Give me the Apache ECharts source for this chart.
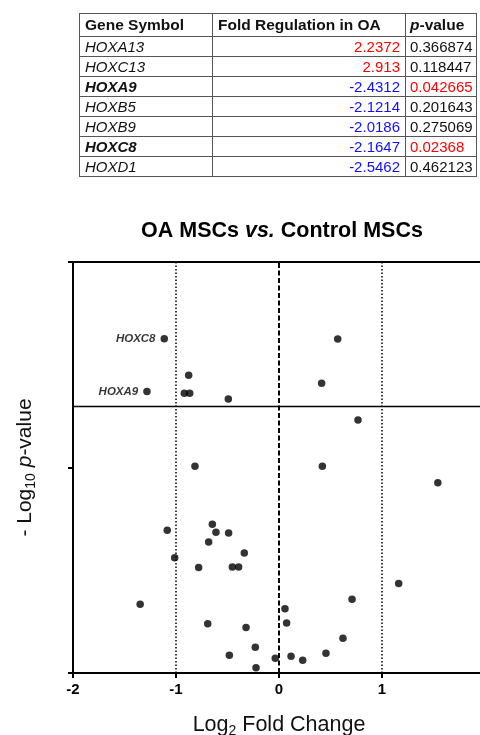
<!DOCTYPE html>
<html>
<head>
<meta charset="utf-8">
<script src="https://cdn.jsdelivr.net/npm/echarts@6/dist/echarts.min.js"></script>
<style>
  body { margin: 0; background: #fff; overflow: hidden; }
  #chart { position: absolute; left: 0; top: 0; width: 480px; height: 735px; }
  #tbl {
    position: absolute; left: 79px; top: 13px; z-index: 2; width: 397px;
    table-layout: fixed; border-collapse: collapse;
    font-family: "Liberation Sans", Arial, sans-serif; font-size: 15px; color: #111;
  }
  #tbl td, #tbl th { border: 1px solid #555; padding: 0 5px; white-space: nowrap; overflow: hidden; }
  #tbl th { font-weight: bold; font-size: 15.5px; height: 22px; text-align: left; }
  #tbl td { height: 19px; line-height: 19px; }
  #tbl td.num { text-align: right; }
  #tbl td.pv, #tbl th.pv { padding: 0 2px 0 4px; }
</style>
</head>
<body>
<div id="chart"></div>
<table id="tbl"></table>
<script>
// table data
const genes = ['HOXA13', 'HOXC13', 'HOXA9', 'HOXB5', 'HOXB9', 'HOXC8', 'HOXD1'];
const foldReg = ['2.2372', '2.913', '-2.4312', '-2.1214', '-2.0186', '-2.1647', '-2.5462'];
const pValues = ['0.366874', '0.118447', '0.042665', '0.201643', '0.275069', '0.02368', '0.462123'];
const boldGenes = ['HOXA9', 'HOXC8'];

// volcano points: log2 fold change, -log10 p
const log2fc = [-1.114, -1.282, 0.570, -0.877, -0.919, -0.867, -0.492, 0.414, 0.767, -0.816,
  0.421, 1.542, -1.085, -0.647, -0.612, -0.489, -0.683, -0.337, -1.013, -0.780,
  -0.453, -0.392, 1.162, -1.348, 0.709, 0.058, 0.074, -0.692, -0.320, 0.621,
  -0.230, -0.482, 0.456, 0.117, -0.036, 0.230, -0.223];
const negLog10p = [1.626, 1.370, 1.625, 1.449, 1.361, 1.361, 1.333, 1.410, 1.231, 1.006,
  1.006, 0.926, 0.695, 0.724, 0.685, 0.681, 0.638, 0.584, 0.561, 0.513,
  0.516, 0.516, 0.435, 0.335, 0.359, 0.313, 0.243, 0.240, 0.222, 0.169,
  0.125, 0.086, 0.096, 0.081, 0.072, 0.062, 0.026];
const pointLabels = ['HOXC8', 'HOXA9'];
const xTicks = [-2, -1, 0, 1, 2];
const yTicks = [0, 1, 2];
const pCutoff = 1.301;

// build table
const tbl = document.getElementById('tbl');
let html = '<colgroup><col style="width:133px"><col style="width:193px"><col style="width:71px"></colgroup>' +
  '<tr><th>Gene Symbol</th><th>Fold Regulation in OA</th><th class="pv"><i>p</i>-value</th></tr>';
genes.forEach((g, i) => {
  const fc = parseFloat(foldReg[i]);
  const gStyle = boldGenes.includes(g) ? 'font-style:italic;font-weight:bold' : 'font-style:italic';
  const pColor = parseFloat(pValues[i]) < 0.05 ? '#ff0000' : '#111';
  html += '<tr><td style="' + gStyle + '">' + g + '</td>' +
    '<td class="num" style="color:' + (fc > 0 ? '#ff0000' : '#1010ff') + '">' + foldReg[i] + '</td>' +
    '<td class="pv" style="color:' + pColor + '">' + pValues[i] + '</td></tr>';
});
tbl.innerHTML = html;

const chart = echarts.init(document.getElementById('chart'));

const points = log2fc.map((x, i) => {
  const item = { value: [x, negLog10p[i]] };
  if (i < pointLabels.length) {
    item.label = {
      show: true, position: 'left', distance: 5, formatter: pointLabels[i],
      fontSize: 11.5, fontWeight: 'bold', fontStyle: 'italic', color: '#000',
      fontFamily: 'Liberation Sans'
    };
  }
  return item;
});

const option = {
  backgroundColor: '#fff',
  animation: false,
  title: {
    text: '{b|OA MSCs }{i|vs.}{b| Control MSCs}',
    left: 136, top: 215,
    textStyle: {
      rich: {
        b: { fontSize: 21.5, fontWeight: 'bold', color: '#000', fontFamily: 'Liberation Sans' },
        i: { fontSize: 21.5, fontWeight: 'bold', fontStyle: 'italic', color: '#000', fontFamily: 'Liberation Sans' }
      }
    }
  },
  grid: { left: 73, top: 262, width: 412, height: 411, outerBoundsMode: 'none', containLabel: false },
  xAxis: [{
    type: 'value', min: xTicks[0], max: xTicks[xTicks.length - 1], interval: 1,
    splitLine: { show: false },
    axisLine: { onZero: false, lineStyle: { color: '#000', width: 2 } },
    axisTick: { show: true, length: 5, lineStyle: { color: '#000', width: 2 } },
    axisLabel: {
      showMaxLabel: false, margin: 9, color: '#000', fontSize: 15, fontWeight: 'bold',
      fontFamily: 'Liberation Sans'
    },
    name: '{a|Log}{s|2}{a| Fold Change}',
    nameLocation: 'middle', nameGap: 39,
    nameTextStyle: {
      rich: {
        a: { fontSize: 21.5, color: '#111', fontFamily: 'Liberation Sans' },
        s: { fontSize: 14, color: '#111', fontFamily: 'Liberation Sans', padding: [12, 0, 0, 0] }
      }
    }
  }, {
    type: 'value', position: 'top', min: -2, max: 2,
    axisLine: { onZero: false, lineStyle: { color: '#000', width: 2 } },
    axisTick: { show: false }, axisLabel: { show: false }, splitLine: { show: false }
  }],
  yAxis: {
    type: 'value', min: yTicks[0], max: yTicks[yTicks.length - 1], interval: 1,
    splitLine: { show: false },
    axisLine: { onZero: false, lineStyle: { color: '#000', width: 2 } },
    axisTick: { show: true, length: 5, lineStyle: { color: '#000', width: 2 } },
    axisLabel: { show: false },
    name: '{a|- Log}{s|10}{a| }{i|p}{a|-value}',
    nameLocation: 'middle', nameGap: 35, nameRotate: 90,
    nameTextStyle: {
      rich: {
        a: { fontSize: 21, color: '#111', fontFamily: 'Liberation Sans' },
        i: { fontSize: 21, fontStyle: 'italic', color: '#111', fontFamily: 'Liberation Sans' },
        s: { fontSize: 14, color: '#111', fontFamily: 'Liberation Sans', padding: [12, 0, 0, 0] }
      }
    }
  },
  series: [{
    type: 'scatter',
    symbol: 'circle',
    symbolSize: 7.5,
    itemStyle: { color: '#000' },
    data: points,
    markLine: {
      silent: true, symbol: 'none', label: { show: false },
      data: [
        { xAxis: -1, lineStyle: { color: '#000', width: 1.5, type: [1.5, 2] } },
        { xAxis: 1, lineStyle: { color: '#000', width: 1.5, type: [1.5, 2] } },
        { xAxis: 0, lineStyle: { color: '#000', width: 2, type: [5, 2.5] } },
        { yAxis: pCutoff, lineStyle: { color: '#000', width: 1.3, type: 'solid' } }
      ]
    }
  }]
};

chart.setOption(option);
</script>
</body>
</html>
